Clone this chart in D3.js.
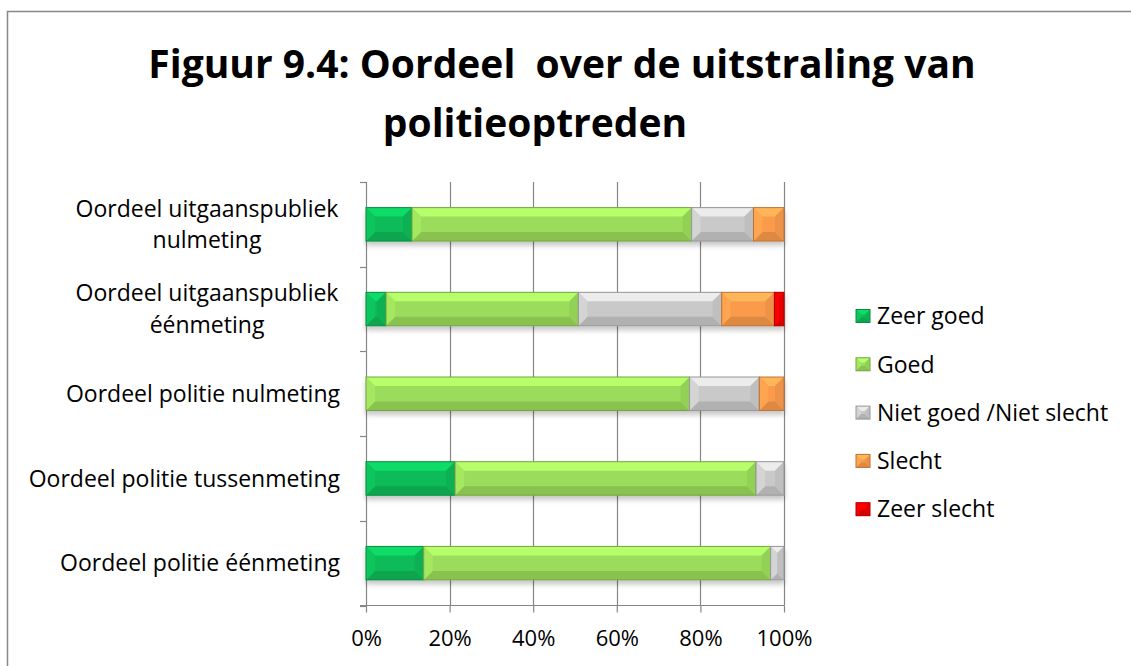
<!DOCTYPE html>
<html>
<head>
<meta charset="utf-8">
<script src="https://cdn.jsdelivr.net/npm/d3@7"></script>
<style>
  body { margin: 0; background: #fff; }
  text { font-family: "Open Sans", "Noto Sans", sans-serif; fill: #000; }
</style>
</head>
<body>
<div id="chart"></div>
<script>
// categories top -> bottom
var categories = [
    ["Oordeel uitgaanspubliek", "nulmeting"],
    ["Oordeel uitgaanspubliek", "éénmeting"],
    ["Oordeel politie nulmeting"],
    ["Oordeel politie tussenmeting"],
    ["Oordeel politie éénmeting"]
];
var seriesNames = ["Zeer goed", "Goed", "Niet goed /Niet slecht", "Slecht", "Zeer slecht"];
var seriesColors = ["#0cbb58", "#9bdc5b", "#c9c9c9", "#fa9b4c", "#ee0000"];

// percentages
var zeerGoed   = [11.0,  4.8,  0.0, 21.3, 13.8];
var goed       = [66.9, 46.0, 77.4, 72.0, 83.0];
var nietGoed   = [14.8, 34.3, 16.7,  6.7,  3.2];
var slecht     = [ 7.3, 12.6,  5.9,  0.0,  0.0];
var zeerSlecht = [ 0.0,  2.3,  0.0,  0.0,  0.0];
var xTicks = [0, 20, 40, 60, 80, 100];

var W = 1131, H = 666;
var svg = d3.select("#chart").append("svg").attr("width", W).attr("height", H);

// drop shadow for the bars
var defs = svg.append("defs");
var f = defs.append("filter").attr("id", "shadow")
    .attr("x", "-5%").attr("y", "-20%").attr("width", "110%").attr("height", "160%");
f.append("feDropShadow").attr("dx", 0).attr("dy", 4).attr("stdDeviation", 2.5)
    .attr("flood-color", "#000").attr("flood-opacity", 0.22);

// outer chart border
svg.append("rect")
    .attr("x", 7.5).attr("y", 11.5).attr("width", W + 10).attr("height", H + 10)
    .attr("fill", "#fff").attr("stroke", "#878787").attr("stroke-width", 1.5);

// title
var title = svg.append("g").style("font-weight", "bold");
title.append("text").attr("x", 562).attr("y", 78).attr("text-anchor", "middle")
    .style("font-size", "39px").text("Figuur 9.4: Oordeel  over de uitstraling van")
    .style("white-space", "pre");
title.append("text").attr("x", 535).attr("y", 137).attr("text-anchor", "middle")
    .style("font-size", "39px").text("politieoptreden");

// table for stacking
var table = categories.map(function(c, i) {
    return {
        key: i,
        "Zeer goed": zeerGoed[i],
        "Goed": goed[i],
        "Niet goed /Niet slecht": nietGoed[i],
        "Slecht": slecht[i],
        "Zeer slecht": zeerSlecht[i]
    };
});
var stacked = d3.stack().keys(seriesNames)(table);

var color = d3.scaleOrdinal().domain(seriesNames).range(seriesColors);

var x = d3.scaleLinear().domain([0, 100]).range([366, 784]);
var y = d3.scaleBand().domain(d3.range(categories.length)).range([182, 605.5]).padding(0);
var barH = y.bandwidth() * 0.395;

// gridlines
svg.append("g").selectAll("line").data(xTicks.slice(1)).enter().append("line")
    .attr("x1", function(d) { return Math.round(x(d)) + 0.5; })
    .attr("x2", function(d) { return Math.round(x(d)) + 0.5; })
    .attr("y1", 182).attr("y2", 605.5)
    .attr("stroke", "#868686").attr("stroke-width", 1.2);

// x axis
var xAxis = svg.append("g").attr("transform", "translate(0,605.5)")
    .call(d3.axisBottom(x).tickValues(xTicks).tickFormat(function(d) { return d + "%"; })
        .tickSize(7).tickPadding(18).tickSizeOuter(0));
xAxis.select(".domain").attr("stroke", "#868686").attr("stroke-width", 1.2)
    .attr("d", "M360,0H784");
xAxis.selectAll(".tick line").attr("stroke", "#868686").attr("stroke-width", 1.2);
xAxis.selectAll(".tick text").style("font-size", "22px").style("font-family", "'Open Sans'");

// y axis
var yAxisG = svg.append("g");
yAxisG.append("line").attr("x1", 366.5).attr("x2", 366.5).attr("y1", 182).attr("y2", 605.5)
    .attr("stroke", "#868686").attr("stroke-width", 1.2);
var yTicks = d3.range(categories.length + 1).map(function(i) { return 182 + i * y.step(); });
yAxisG.selectAll("line.yt").data(yTicks).enter().append("line").attr("class", "yt")
    .attr("x1", 360).attr("x2", 366.5)
    .attr("y1", function(d) { return Math.round(d) + 0.5; })
    .attr("y2", function(d) { return Math.round(d) + 0.5; })
    .attr("stroke", "#868686").attr("stroke-width", 1.2);

// category labels
var labels = svg.append("g").selectAll("text").data(categories).enter().append("text")
    .attr("y", function(d, i) { return y(i) + y.bandwidth() / 2; })
    .style("font-size", "23px");
labels.each(function(d) {
    var t = d3.select(this);
    var n = d.length;
    t.attr("text-anchor", n === 1 ? "end" : "middle");
    d.forEach(function(line, j) {
        t.append("tspan")
            .attr("x", n === 1 ? 340 : 207)
            .attr("dy", j === 0 ? ((n === 1 ? 0.35 : -0.33) + "em") : "1.36em")
            .text(line);
    });
});

// bevelled segment
function bevel(g, x0, x1, y0, y1, c, b) {
    var w = x1 - x0, h = y1 - y0;
    b = Math.min(b, w / 2, h / 2);
    var base = d3.color(c);
    g.append("rect").attr("x", x0).attr("y", y0).attr("width", w).attr("height", h).attr("fill", c);
    var poly = function(pts, fill) {
        g.append("polygon").attr("points", pts.map(function(p) { return p.join(","); }).join(" "))
            .attr("fill", fill);
    };
    poly([[x0, y0], [x1, y0], [x1 - b, y0 + b], [x0 + b, y0 + b]], base.brighter(0.45));
    poly([[x0, y1], [x1, y1], [x1 - b, y1 - b], [x0 + b, y1 - b]], base.darker(0.35));
    poly([[x0, y0], [x0 + b, y0 + b], [x0 + b, y1 - b], [x0, y1]], base.brighter(0.15));
    poly([[x1, y0], [x1 - b, y0 + b], [x1 - b, y1 - b], [x1, y1]], base.darker(0.15));
    g.append("rect").attr("x", x0).attr("y", y0).attr("width", w).attr("height", h)
        .attr("fill", "none").attr("stroke", base.darker(0.8)).attr("stroke-width", 1);
}

// bars
var barsG = svg.append("g").attr("filter", "url(#shadow)");
stacked.forEach(function(layer) {
    layer.forEach(function(d, i) {
        if (d[1] - d[0] <= 0) return;
        var y0 = y(i) + (y.bandwidth() - barH) / 2;
        bevel(barsG.append("g"), x(d[0]), x(d[1]), y0, y0 + barH, color(layer.key), 9);
    });
});

// legend
var legend = svg.append("g").selectAll("g").data(seriesNames).enter().append("g")
    .attr("transform", function(d, i) { return "translate(856," + (316 + i * 48.3) + ")"; });
legend.each(function(d) {
    bevel(d3.select(this), 0, 14, -6.5, 6.5, color(d), 5);
});
legend.append("text").attr("x", 21).attr("y", 0).attr("dy", "0.36em")
    .style("font-size", "23px").text(function(d) { return d; });
</script>
</body>
</html>
